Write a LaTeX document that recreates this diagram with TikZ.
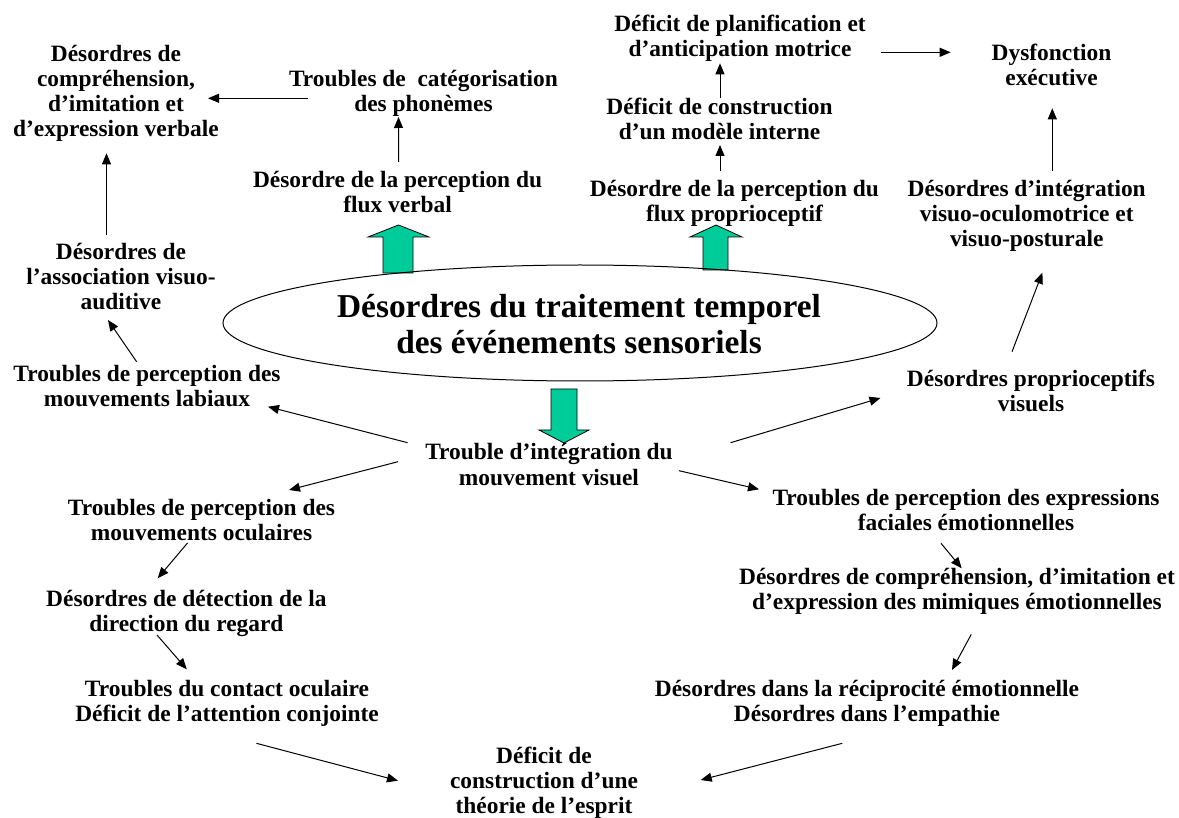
\documentclass[tikz,border=0pt]{standalone}
\usepackage{fontspec}
\setmainfont{Liberation Serif}
\usetikzlibrary{arrows.meta}
\definecolor{arrgreen}{RGB}{0,204,153}
\begin{document}
\begin{tikzpicture}[x=1pt,y=-1pt,
  lbl/.style={inner sep=0pt,align=center,anchor=base,font=\bfseries\fontsize{23.4}{25}\selectfont},
  big/.style={inner sep=0pt,align=center,anchor=base,font=\bfseries\fontsize{33.4}{36}\selectfont},
  conn/.style={line width=1pt,-{Triangle[length=11pt,width=9pt]}},
  blockarrow/.style={fill=arrgreen,draw=black,line width=0.8pt,line join=miter}]
\useasboundingbox (0,0) rectangle (1179,818);
% nodes (anchor = baseline of the last line)
\node[lbl] (n1) at (116,137) {Désordres de\\compréhension,\\d’imitation et\\d’expression verbale};
\node[lbl] (cat) at (423.5,112) {Troubles de\ \ catégorisation\\des phonèmes};
\node[lbl] (fv) at (397.6,213) {Désordre de la perception du\\flux verbal};
\node[lbl] (plan) at (740,56.7) {Déficit de planification et\\d’anticipation motrice};
\node[lbl] (cons) at (719.5,140) {Déficit de construction\\d’un modèle interne};
\node[lbl] (fp) at (734.5,221.7) {Désordre de la perception du\\flux proprioceptif};
\node[lbl] (dys) at (1051.5,85.7) {Dysfonction\\exécutive};
\node[lbl] (vo) at (1026.7,246.7) {Désordres d’intégration\\visuo-oculomotrice et\\visuo-posturale};
\node[lbl] (va) at (121,310) {Désordres de\\l’association visuo-\\auditive};
\node[lbl] (lab) at (147,406.7) {Troubles de perception des\\mouvements labiaux};
\node[lbl] (pv) at (1031,411.7) {Désordres proprioceptifs\\visuels};
\node[lbl] (tiv) at (549,485) {Trouble d’intégration du\\mouvement visuel};
\node[lbl] (ocu) at (201.5,540) {Troubles de perception des\\mouvements oculaires};
\node[lbl] (fac) at (966,530) {Troubles de perception des expressions\\faciales émotionnelles};
\node[lbl] (det) at (186.4,631) {Désordres de détection de la\\direction du regard};
\node[lbl] (mim) at (957,609) {Désordres de compréhension, d’imitation et\\d’expression des mimiques émotionnelles};
\node[lbl] (con) at (227,721.7) {Troubles du contact oculaire\\Déficit de l’attention conjointe};
\node[lbl] (emp) at (867,721) {Désordres dans la réciprocité émotionnelle\\Désordres dans l’empathie};
\node[lbl] (tom) at (544,813) {Déficit de\\construction d’une\\théorie de l’esprit};
% green block arrows
\draw[blockarrow] (383,273) -- (383,237) -- (368,237) -- (398.5,225) -- (429,237) -- (413,237) -- (413,273) -- cycle;
\draw[blockarrow] (703,270) -- (703,237) -- (690,237) -- (716,225) -- (742,237) -- (728,237) -- (728,270) -- cycle;
\draw[blockarrow] (551,389) -- (551,430) -- (539,430) -- (564,443) -- (589,430) -- (577,430) -- (577,389) -- cycle;
% central ellipse
\draw[line width=1pt] (580,323) ellipse [x radius=357, y radius=58];
\node[big] (ell) at (579,354) {Désordres du traitement temporel\\des événements sensoriels};
% connectors
\draw[conn] ([shift={(-115.5,-13.7)}]cat.base) -- ([shift={(92,-38.7)}]n1.base);
\draw[conn] ([shift={(1,-51)}]fv.base) -- ([shift={(-25,5)}]cat.base);
\draw[conn] ([shift={(0.5,-41.7)}]cons.base) -- ([shift={(-20,6.6)}]plan.base);
\draw[conn] ([shift={(-14.5,-51)}]fp.base) -- ([shift={(0.5,5)}]cons.base);
\draw[conn] ([shift={(141,-4.4)}]plan.base) -- ([shift={(-100.8,-33.4)}]dys.base);
\draw[conn] ([shift={(25.6,-76)}]vo.base) -- ([shift={(0.8,22.6)}]dys.base);
\draw[conn] ([shift={(-14.5,-75)}]va.base) -- ([shift={(-9.5,16.3)}]n1.base);
\draw[conn] ([shift={(-10.4,-45)}]lab.base) -- ([shift={(-13,10)}]va.base);
\draw[conn] ([shift={(-141.4,-42.3)}]tiv.base) -- ([shift={(121,0)}]lab.base);
\draw[conn] ([shift={(-151,-23.3)}]tiv.base) -- ([shift={(87.5,-50)}]ocu.base);
\draw[conn] ([shift={(181.5,-42.3)}]tiv.base) -- ([shift={(-150.5,-13.7)}]pv.base);
\draw[conn] ([shift={(130,-14.3)}]tiv.base) -- ([shift={(-207,-40.7)}]fac.base);
\draw[conn] ([shift={(-19,-60)}]pv.base) -- ([shift={(15.7,26)}]vo.base);
\draw[conn] ([shift={(-14,3)}]ocu.base) -- ([shift={(-28.7,-52.7)}]det.base);
\draw[conn] ([shift={(-29.4,4)}]det.base) -- ([shift={(-40.2,-52.4)}]con.base);
\draw[conn] ([shift={(29.4,21.6)}]con.base) -- ([shift={(-146,-32.3)}]tom.base);
\draw[conn] ([shift={(-25,13.3)}]fac.base) -- ([shift={(4.7,-40.7)}]mim.base);
\draw[conn] ([shift={(14.3,25.3)}]mim.base) -- ([shift={(85,-51)}]emp.base);
\draw[conn] ([shift={(-24.7,22.3)}]emp.base) -- ([shift={(156.7,-33)}]tom.base);
\end{tikzpicture}
\end{document}
